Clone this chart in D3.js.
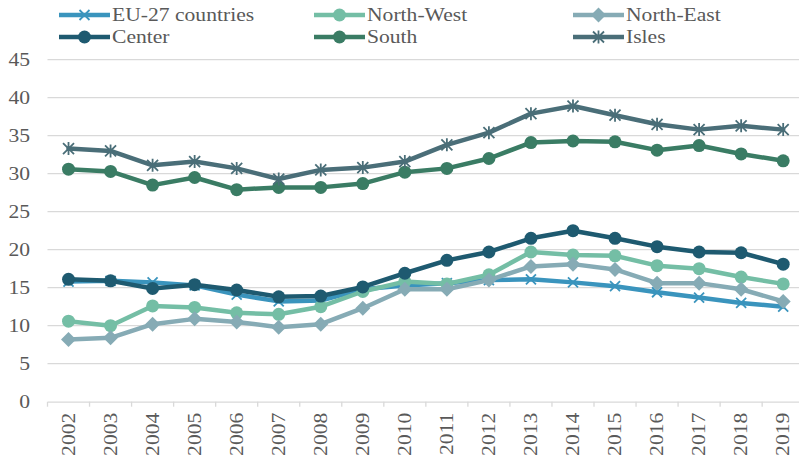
<!DOCTYPE html>
<html>
<head>
<meta charset="utf-8">
<script src="https://cdn.jsdelivr.net/npm/d3@7/dist/d3.min.js"></script>
<style>
  html, body { margin: 0; padding: 0; background: #fff; }
  svg { display: block; }
  text { font-family: "Liberation Serif", "Times New Roman", serif; fill: #595959; }
</style>
</head>
<body>
<svg id="chart" width="799" height="464"></svg>
<script>
// Years on the category axis
const years = ["2002","2003","2004","2005","2006","2007","2008","2009","2010",
               "2011","2012","2013","2014","2015","2016","2017","2018","2019"];

// Series values (%)
const eu27      = [15.8, 15.9, 15.7, 15.3, 14.1, 13.2, 13.3, 14.8, 15.3, 15.6, 16.0, 16.1, 15.7, 15.2, 14.4, 13.7, 13.0, 12.5];
const northWest = [10.6, 10.0, 12.6, 12.4, 11.7, 11.5, 12.5, 14.5, 15.8, 15.5, 16.7, 19.7, 19.3, 19.2, 17.9, 17.5, 16.4, 15.5];
const northEast = [8.2, 8.4, 10.2, 10.9, 10.5, 9.8, 10.2, 12.3, 14.8, 14.8, 16.0, 17.8, 18.1, 17.4, 15.6, 15.6, 14.8, 13.2];
const center    = [16.1, 15.9, 14.9, 15.4, 14.7, 13.8, 13.9, 15.1, 16.9, 18.6, 19.7, 21.5, 22.5, 21.5, 20.4, 19.7, 19.6, 18.1];
const south     = [30.6, 30.3, 28.5, 29.5, 27.9, 28.2, 28.2, 28.7, 30.2, 30.7, 32.0, 34.1, 34.3, 34.2, 33.1, 33.7, 32.6, 31.7];
const isles     = [33.3, 33.0, 31.1, 31.6, 30.7, 29.3, 30.5, 30.8, 31.6, 33.8, 35.4, 37.9, 38.9, 37.7, 36.5, 35.8, 36.3, 35.8];

// Y-axis tick values
const yTicks = [0, 5, 10, 15, 20, 25, 30, 35, 40, 45];

const series = [
  { name: "EU-27 countries", values: eu27,      color: "#3A94BD", marker: "x" },
  { name: "North-West",      values: northWest, color: "#74BEA5", marker: "circle" },
  { name: "North-East",      values: northEast, color: "#86ABB5", marker: "diamond" },
  { name: "Center",          values: center,    color: "#1E5A70", marker: "circle" },
  { name: "South",           values: south,     color: "#3A7C64", marker: "circle" },
  { name: "Isles",           values: isles,     color: "#4A6E78", marker: "star" }
];

const svg = d3.select("#chart");
const plotLeft = 47.5, plotRight = 804.2, plotTop = 59.7, plotBottom = 401.7;

const x = d3.scaleBand().domain(years).range([plotLeft, plotRight]).padding(0);
const y = d3.scaleLinear().domain([0, 45]).range([plotBottom, plotTop]);
const cx = d => x(d) + x.bandwidth() / 2;

const FS = 18, SX = 1.2; // font size and horizontal glyph stretch

// Horizontal gridlines
svg.append("g").selectAll("line")
  .data(yTicks.filter(t => t > 0))
  .join("line")
  .attr("x1", plotLeft).attr("x2", 799)
  .attr("y1", d => y(d)).attr("y2", d => y(d))
  .attr("stroke", "#d9d9d9").attr("stroke-width", 1.3);

// Y tick labels
svg.append("g").selectAll("text")
  .data(yTicks)
  .join("text")
  .attr("transform", d => `translate(30,${y(d)}) scale(${SX},1)`)
  .attr("text-anchor", "end")
  .attr("dy", "0.35em")
  .attr("font-size", FS)
  .text(d => d);

// X axis: baseline with tick marks at band boundaries
const xAxis = d3.axisBottom(x).tickSize(0).tickFormat("");
const gx = svg.append("g").attr("transform", `translate(0,${plotBottom})`).call(xAxis);
gx.select(".domain").attr("stroke", "#d9d9d9").attr("stroke-width", 1.3);
const bounds = years.map(d => x(d)).concat([plotRight]);
svg.append("g").selectAll("line")
  .data(bounds)
  .join("line")
  .attr("x1", d => d).attr("x2", d => d)
  .attr("y1", plotBottom).attr("y2", plotBottom + 5)
  .attr("stroke", "#d9d9d9").attr("stroke-width", 1.3);

// X tick labels, rotated
svg.append("g").selectAll("text")
  .data(years)
  .join("text")
  .attr("transform", d => `translate(${cx(d)},${plotBottom + 11}) rotate(-90) scale(${SX},1)`)
  .attr("text-anchor", "end")
  .attr("dy", "0.35em")
  .attr("font-size", FS)
  .text(d => d);

// Marker drawing
function drawMarker(g, type, color, px, py) {
  if (type === "circle") {
    g.append("circle").attr("cx", px).attr("cy", py).attr("r", 6.5).attr("fill", color);
  } else if (type === "diamond") {
    const s = 7.5;
    g.append("path")
      .attr("d", `M${px},${py - s}L${px + s},${py}L${px},${py + s}L${px - s},${py}Z`)
      .attr("fill", color);
  } else if (type === "x") {
    const s = 5;
    g.append("path")
      .attr("d", `M${px - s},${py - s}L${px + s},${py + s}M${px - s},${py + s}L${px + s},${py - s}`)
      .attr("stroke", color).attr("stroke-width", 1.8).attr("fill", "none");
  } else if (type === "star") {
    const s = 5.5;
    g.append("path")
      .attr("d", `M${px - s},${py - s}L${px + s},${py + s}M${px - s},${py + s}L${px + s},${py - s}M${px},${py - s - 1}L${px},${py + s + 1}`)
      .attr("stroke", color).attr("stroke-width", 1.8).attr("fill", "none");
  }
}

const line = d3.line().x((d, i) => cx(years[i])).y(d => y(d));

series.forEach(s => {
  const g = svg.append("g");
  g.append("path")
    .attr("d", line(s.values))
    .attr("fill", "none")
    .attr("stroke", s.color)
    .attr("stroke-width", 4.5)
    .attr("stroke-linejoin", "round")
    .attr("stroke-linecap", "round");
  s.values.forEach((v, i) => drawMarker(g, s.marker, s.color, cx(years[i]), y(v)));
});

// Legend: two rows of three entries
const legendCols = [59, 314, 573];
const legendRows = [15, 37];
const lg = svg.append("g");
series.forEach((s, i) => {
  const lx = legendCols[i % 3], ly = legendRows[Math.floor(i / 3)];
  const item = lg.append("g");
  item.append("line")
    .attr("x1", lx).attr("x2", lx + 51).attr("y1", ly).attr("y2", ly)
    .attr("stroke", s.color).attr("stroke-width", 4.5);
  drawMarker(item, s.marker, s.color, lx + 25.5, ly);
  item.append("text")
    .attr("transform", `translate(${lx + 53},${ly}) scale(${SX},1)`)
    .attr("dy", "0.35em")
    .attr("font-size", FS)
    .text(s.name);
});
</script>
</body>
</html>
